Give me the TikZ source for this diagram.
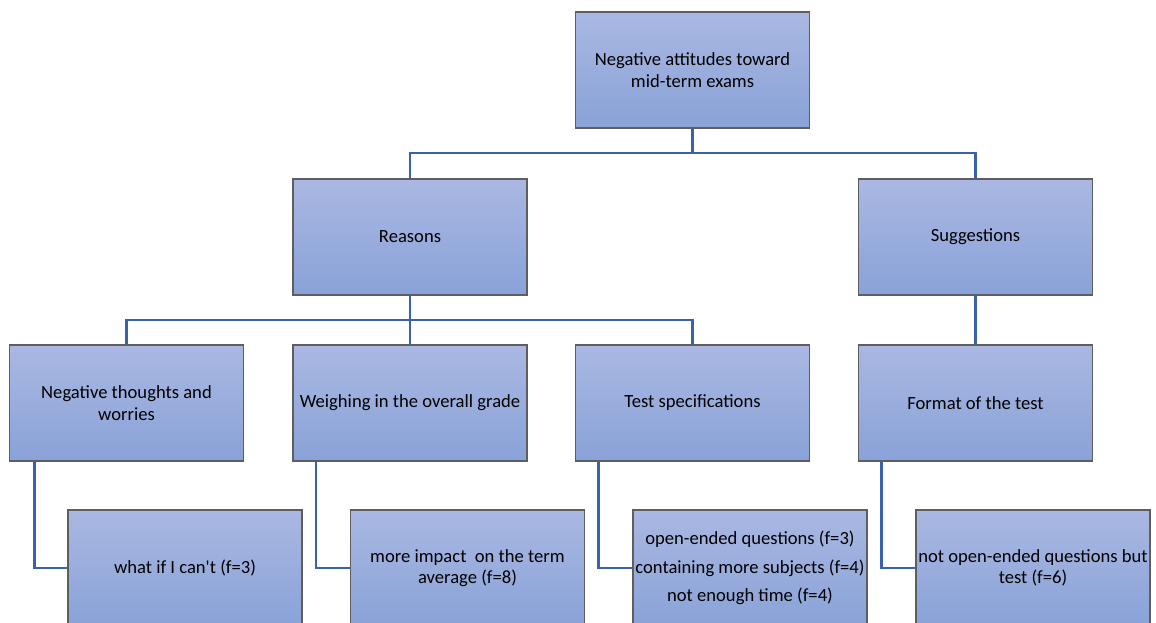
\documentclass[tikz,border=0pt]{standalone}
\usepackage{fontspec}
\setmainfont{Carlito}
\definecolor{boxtop}{HTML}{AAB8E2}
\definecolor{boxbot}{HTML}{89A2D8}
\definecolor{boxgray}{HTML}{5E5E5E}
\definecolor{linkblue}{HTML}{3A62AC}
\begin{document}
\begin{tikzpicture}[x=1pt,y=-1pt,
  box/.style={draw=boxgray, line width=1.1pt, top color=boxtop, bottom color=boxbot,
    minimum width=234pt, minimum height=116pt, inner sep=0pt, align=center,
    font=\fontsize{18.6}{21.5}\selectfont},
  link/.style={draw=linkblue, line width=2.6pt}]
\useasboundingbox (0,0) rectangle (1156,623);
\clip (0,0) rectangle (1156,623);

% level 1 and 2
\node[box] (top) at (692.5,70) {Negative attitudes toward\\mid-term exams};
\node[box] (reasons) at (410,237) {Reasons};
\node[box] (sugg) at (975.5,237) {Suggestions};

% level 3
\node[box] (neg) at (126.5,403) {Negative thoughts and\\worries};
\node[box] (weigh) at (410,403) {Weighing in the overall grade};
\node[box] (test) at (692.5,403) {Test specifications};
\node[box] (format) at (975.5,403) {Format of the test};

% level 4
\node[box] (whatif) at (185,568) {what if I can\textquotesingle t (f=3)};
\node[box] (impact) at (467.5,568) {more impact\ \ on the term\\average (f=8)};
\node[box, font=\fontsize{18.6}{28.5}\selectfont] (open) at (750,568) {open-ended questions (f=3)\\containing more subjects (f=4)\\not enough time (f=4)};
\node[box] (notopen) at (1033,568) {not open-ended questions but\\test (f=6)};

% connectors
\coordinate (b1) at (692.5,153);
\coordinate (b2) at (410,320);
\draw[link] (top.south) -- (b1);
\draw[link] (reasons.north) |- (b1) -| (sugg.north);
\draw[link] (reasons.south) -- (b2);
\draw[link] (neg.north) |- (b2) -| (test.north);
\draw[link] (b2) -- (weigh.north);
\draw[link] (sugg.south) -- (format.north);
\draw[link] ([xshift=-92pt]neg.south) |- (whatif.west);
\draw[link] ([xshift=-94pt]weigh.south) |- (impact.west);
\draw[link] ([xshift=-94pt]test.south) |- (open.west);
\draw[link] ([xshift=-94pt]format.south) |- (notopen.west);
\end{tikzpicture}
\end{document}
